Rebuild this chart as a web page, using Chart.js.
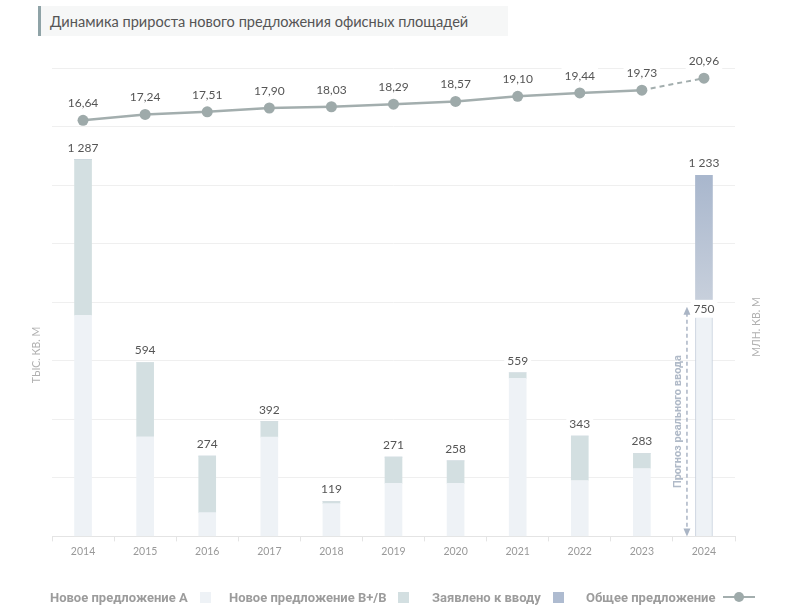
<!DOCTYPE html>
<html>
<head>
<meta charset="utf-8">
<script src="https://cdn.jsdelivr.net/npm/chart.js@4"></script>
<style>
  body { margin: 0; background: #fff; font-family: Lato, sans-serif; }
  #wrap { position: relative; width: 800px; height: 616px; }
  #title {
    position: absolute; left: 38px; top: 6px; width: 458px; height: 30px;
    background: #f6f7f7; border-left: 3px solid #8fa3a7;
    padding-left: 9px; line-height: 31px; font-size: 14.6px; color: #555;
  }
  #legend { position: absolute; left: 0; top: 589px; width: 800px; height: 20px; }
  #legend span.item {
    position: absolute; top: 0; font-family: Roboto, sans-serif; font-weight: bold;
    font-size: 13px; color: #9c9c9c; line-height: 18px; white-space: nowrap;
  }
  #legend i { display: inline-block; width: 11px; height: 11px; vertical-align: -1px; margin-left: 12px; }
</style>
</head>
<body>
<div id="wrap">
  <canvas id="supplyChart" width="800" height="616"></canvas>
  <div id="title">Динамика прироста нового предложения офисных площадей</div>
  <div id="legend">
    <span class="item" style="left:50px">Новое предложение А<i style="background:#eef2f6"></i></span>
    <span class="item" style="left:229px">Новое предложение В+/В<i style="background:#d3dfe1"></i></span>
    <span class="item" style="left:432px">Заявлено к вводу<i style="background:#aebbd0"></i></span>
    <span class="item" style="left:586px">Общее предложение<svg width="32" height="12" style="margin-left:8px;vertical-align:-1px"><line x1="0" y1="6" x2="32" y2="6" stroke="#a3aeae" stroke-width="2"/><circle cx="16" cy="6" r="5" fill="#9eaaaa"/></svg></span>
  </div>
</div>
<script>
const years = ["2014", "2015", "2016", "2017", "2018", "2019", "2020", "2021", "2022", "2023", "2024"];
const newA = [755, 340, 81, 339, 112, 181, 181, 540, 191, 232, 750];
const newB = [532, 254, 193, 53, 7, 90, 77, 19, 152, 51, 0];
const declared = [0, 0, 0, 0, 0, 0, 0, 0, 0, 0, 483];
const totalSupply = [16.64, 17.24, 17.51, 17.90, 18.03, 18.29, 18.57, 19.10, 19.44, 19.73, 20.96];

const labelFont = "12px Lato";

function fmtThousands(v) {
  const s = String(v);
  return s.length > 3 ? s.slice(0, s.length - 3) + " " + s.slice(-3) : s;
}

function drawLabel(ctx, text, x, y, h) {
  h = h || 16;
  ctx.font = labelFont;
  const w = ctx.measureText(text).width + 6;
  ctx.fillStyle = "#fff";
  ctx.fillRect(x - w / 2, y - h / 2, w, h);
  ctx.fillStyle = "#555";
  ctx.textAlign = "center";
  ctx.textBaseline = "middle";
  ctx.fillText(text, x, y);
}

const labelsPlugin = {
  id: "labels",
  afterDatasetsDraw(chart) {
    const ctx = chart.ctx;
    const xs = chart.scales.x;
    const ys = chart.scales.y;
    const area = chart.chartArea;
    ctx.save();

    // forecast arrow for 2024
    const ax = xs.getPixelForValue(10) - 17;
    const aTop = ys.getPixelForValue(newA[10]) - 10;
    const aBot = area.bottom;
    ctx.strokeStyle = "#aab5c5";
    ctx.fillStyle = "#aab5c5";
    ctx.lineWidth = 1.5;
    ctx.setLineDash([4, 3]);
    ctx.beginPath();
    ctx.moveTo(ax, aTop + 6);
    ctx.lineTo(ax, aBot - 6);
    ctx.stroke();
    ctx.setLineDash([]);
    ctx.beginPath();
    ctx.moveTo(ax, aTop); ctx.lineTo(ax - 3.5, aTop + 8); ctx.lineTo(ax + 3.5, aTop + 8); ctx.closePath();
    ctx.moveTo(ax, aBot); ctx.lineTo(ax - 3.5, aBot - 8); ctx.lineTo(ax + 3.5, aBot - 8); ctx.closePath();
    ctx.fill();
    ctx.save();
    ctx.translate(ax - 9, (aTop + aBot) / 2);
    ctx.rotate(-Math.PI / 2);
    ctx.font = "bold 11px Roboto";
    ctx.fillStyle = "#b0bac8";
    ctx.textAlign = "center";
    ctx.textBaseline = "middle";
    ctx.fillText("Прогноз реального ввода", 0, 0);
    ctx.restore();

    // bar totals
    years.forEach((y, i) => {
      const total = newA[i] + newB[i] + declared[i];
      const x = xs.getPixelForValue(i);
      drawLabel(ctx, fmtThousands(total), x, ys.getPixelForValue(total) - 12);
    });
    drawLabel(ctx, String(newA[10]), xs.getPixelForValue(10), ys.getPixelForValue(newA[10]) - 8, 18);

    // total supply labels
    const lineMeta = chart.getDatasetMeta(3);
    lineMeta.data.forEach((pt, i) => {
      drawLabel(ctx, totalSupply[i].toFixed(2).replace(".", ","), pt.x, pt.y - 17);
    });

    // axis titles
    ctx.font = "10.5px Lato";
    ctx.fillStyle = "#b0b0b0";
    ctx.textAlign = "center";
    ctx.textBaseline = "middle";
    ctx.save();
    ctx.translate(37, 355);
    ctx.rotate(-Math.PI / 2);
    ctx.fillText("ТЫС. КВ. М", 0, 0);
    ctx.restore();
    ctx.save();
    ctx.translate(757, 327);
    ctx.rotate(-Math.PI / 2);
    ctx.fillText("МЛН. КВ. М", 0, 0);
    ctx.restore();

    ctx.restore();
  }
};

new Chart("supplyChart", {
  type: "bar",
  data: {
    labels: years,
    datasets: [
      {
        label: "Новое предложение А",
        data: newA,
        backgroundColor: "#eef2f6",
        borderColor: (c) => (c.dataIndex === 10 ? "#c6d0dc" : "rgba(0,0,0,0)"),
        borderWidth: (c) => (c.dataIndex === 10 ? 1 : 0),
        stack: "s",
        order: 1,
      },
      {
        label: "Новое предложение В+/В",
        data: newB,
        backgroundColor: "#d3dfe1",
        stack: "s",
        order: 1,
      },
      {
        label: "Заявлено к вводу",
        data: declared,
        backgroundColor: (c) => {
          const area = c.chart.chartArea;
          if (!area) return "#aebbd0";
          const g = c.chart.ctx.createLinearGradient(0, area.top + 110, 0, area.top + 235);
          g.addColorStop(0, "#a9b7cd");
          g.addColorStop(1, "#c8d0dc");
          return g;
        },
        stack: "s",
        order: 1,
      },
      {
        type: "line",
        label: "Общее предложение",
        data: totalSupply,
        yAxisID: "y1",
        borderColor: "#a3aeae",
        borderWidth: 2.5,
        pointRadius: 5.5,
        pointBackgroundColor: "#9eaaaa",
        pointBorderWidth: 0,
        segment: {
          borderDash: (c) => (c.p1DataIndex === 10 ? [5, 4] : undefined),
          borderWidth: (c) => (c.p1DataIndex === 10 ? 2 : 2.5),
        },
        order: 0,
      },
    ],
  },
  options: {
    responsive: false,
    animation: false,
    layout: { padding: { left: 52, right: 65, top: 68, bottom: 54 } },
    datasets: { bar: { barThickness: 17 } },
    plugins: {
      legend: { display: false },
      title: { display: false },
      tooltip: { enabled: false },
    },
    scales: {
      x: {
        stacked: true,
        grid: { drawOnChartArea: false, tickLength: 5, color: "#e4e4e4" },
        border: { color: "#e4e4e4" },
        ticks: { color: "#999", font: { family: "Lato", size: 10.5 }, padding: 4 },
      },
      y: {
        stacked: true,
        min: 0,
        max: 1600,
        ticks: { stepSize: 200, display: false },
        grid: { color: "#efefef", drawTicks: false },
        border: { display: false },
      },
      y1: {
        display: false,
        min: -26,
        max: 22,
      },
    },
  },
  plugins: [labelsPlugin],
});
</script>
</body>
</html>
